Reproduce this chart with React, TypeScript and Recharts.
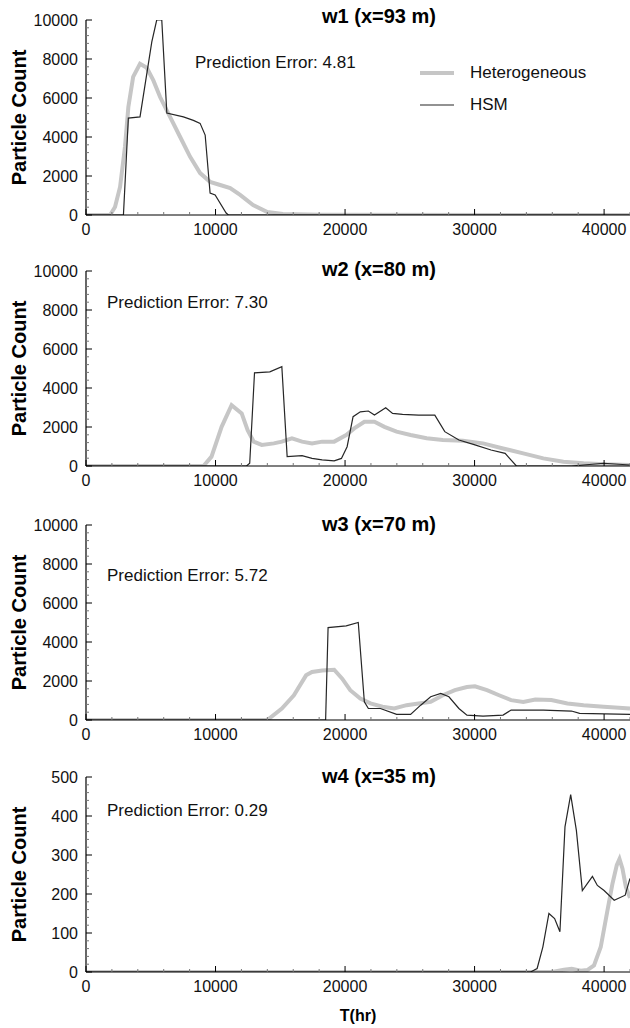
import React from "react";
import { LineChart, Line, XAxis, YAxis, Legend } from "recharts";

const FONT = "'Liberation Sans', Arial, sans-serif";
const HET_COLOR = "#c6c6c6";
const HSM_COLOR = "#262626";
const TOP = 30; // space above each plot for the title

// x axis (T in hours)
const xLabels = [0, 10000, 20000, 30000, 40000];
const xTicks = [
  0, 2000, 4000, 6000, 8000, 10000, 12000, 14000, 16000, 18000, 20000,
  22000, 24000, 26000, 28000, 30000, 32000, 34000, 36000, 38000, 40000, 42000,
];

// w1 (x=93 m)
const w1HetT = [0, 1860, 2240, 2630, 3010, 3270, 3640, 4170, 4690, 5200, 5720, 6490, 7270, 8040, 8810, 9580, 10360, 11130, 11900, 12900, 14000, 15200, 18000, 42000];
const w1HetCount = [0, 0, 410, 1440, 3500, 5540, 7080, 7750, 7550, 6900, 6050, 5030, 4000, 2980, 2150, 1700, 1540, 1380, 1030, 510, 150, 50, 10, 0];
const w1HsmT = [0, 2890, 3270, 4170, 5080, 5460, 5850, 6240, 7520, 8290, 8810, 9200, 9580, 9970, 10820, 11000, 42000];
const w1HsmCount = [0, 0, 4970, 5030, 8880, 10000, 10000, 5230, 5030, 4850, 4700, 4100, 1130, 1030, 100, 0, 0];

// w2 (x=80 m)
const w2HetT = [0, 9070, 9690, 10470, 11240, 12020, 12480, 12950, 13570, 14500, 15120, 15900, 16680, 17450, 18230, 19160, 20090, 20710, 21490, 22270, 23040, 23980, 25060, 26300, 27550, 29100, 30650, 32200, 33760, 35310, 36860, 38420, 39970, 42000];
const w2HetCount = [0, 0, 480, 2010, 3120, 2700, 1840, 1250, 1080, 1160, 1250, 1420, 1250, 1160, 1250, 1250, 1590, 1930, 2270, 2270, 2010, 1760, 1590, 1420, 1330, 1300, 1160, 900, 650, 390, 220, 140, 85, 50];
const w2HsmT = [0, 12390, 12640, 13010, 14190, 15120, 15530, 16680, 17450, 18230, 19160, 19720, 20160, 20620, 21180, 21800, 22270, 23140, 23670, 24440, 25680, 26930, 27700, 28790, 30030, 31270, 32360, 33230, 37500, 39970, 42000];
const w2HsmCount = [0, 0, 140, 4780, 4830, 5090, 480, 530, 390, 310, 260, 390, 990, 2530, 2780, 2820, 2610, 2990, 2700, 2650, 2610, 2610, 1760, 1330, 1080, 820, 650, 0, 0, 140, 50];

// w3 (x=70 m)
const w3HetT = [0, 14000, 15120, 16050, 16990, 17450, 18230, 19160, 19780, 20400, 21180, 21960, 22890, 23800, 24750, 25680, 26610, 27550, 28480, 29410, 30030, 30960, 31890, 32820, 33760, 34690, 35930, 37170, 38420, 39970, 42000];
const w3HetCount = [0, 0, 590, 1270, 2290, 2460, 2540, 2580, 2120, 1530, 1100, 850, 680, 590, 760, 850, 930, 1270, 1530, 1690, 1730, 1530, 1270, 1020, 930, 1050, 1020, 850, 760, 680, 590];
const w3HsmT = [0, 18500, 18690, 20090, 21020, 21490, 21800, 22730, 23980, 25060, 25840, 26610, 27390, 28020, 28790, 29410, 30650, 32200, 32820, 35310, 37480, 38110, 42000];
const w3HsmCount = [0, 0, 4740, 4830, 5000, 930, 590, 590, 290, 290, 760, 1190, 1360, 1190, 590, 250, 200, 250, 510, 510, 460, 340, 290];

// w4 (x=35 m)
const w4HetT = [0, 36000, 36900, 37500, 38200, 38700, 39220, 39740, 40260, 40650, 40980, 41190, 41420, 41680, 42000];
const w4HetCount = [0, 0, 6, 8, 3, 5, 17, 64, 158, 227, 274, 290, 265, 218, 190];
const w4HsmT = [0, 34320, 34830, 35270, 35740, 36180, 36590, 36980, 37420, 37860, 38320, 39100, 39480, 40000, 40780, 41630, 42000];
const w4HsmCount = [0, 0, 9, 64, 150, 137, 103, 372, 455, 363, 209, 245, 222, 209, 184, 197, 240];

const countLabels = [0, 2000, 4000, 6000, 8000, 10000];
const countTicks = [0, 400, 800, 1200, 1600, 2000, 2400, 2800, 3200, 3600, 4000, 4400, 4800, 5200, 5600, 6000, 6400, 6800, 7200, 7600, 8000, 8400, 8800, 9200, 9600, 10000];
const smallLabels = [0, 100, 200, 300, 400, 500];
const smallTicks = [0, 20, 40, 60, 80, 100, 120, 140, 160, 180, 200, 220, 240, 260, 280, 300, 320, 340, 360, 380, 400, 420, 440, 460, 480, 500];

const seriesNames = ["Heterogeneous", "HSM"];
const legendWidths: Record<string, number> = { Heterogeneous: 4, HSM: 1.2 };

const zip = (t: number[], v: number[]) => t.map((x, i) => ({ t: x, v: v[i] }));

const renderLegend = (props: any) => {
  const items = [...(props.payload || [])].sort(
    (a: any, b: any) => seriesNames.indexOf(a.value) - seriesNames.indexOf(b.value)
  );
  return (
    <div style={{ fontFamily: FONT, fontSize: 17, color: "#111" }}>
      {items.map((entry: any) => (
        <div key={entry.value} style={{ display: "flex", alignItems: "center", height: 32 }}>
          <svg width={34} height={8} style={{ marginRight: 16 }}>
            <line x1={0} x2={34} y1={4} y2={4} stroke={entry.color} strokeWidth={legendWidths[entry.value]} />
          </svg>
          <span>{entry.value}</span>
        </div>
      ))}
    </div>
  );
};

// tick marks point into the plot; labels only on the major values
const makeXTick = (labels: number[]) => (props: any) => {
  const { x, y, payload } = props;
  const major = labels.includes(payload.value);
  const axisY = y - 8;
  return (
    <g>
      <line x1={x} x2={x} y1={axisY} y2={axisY - (major ? 6 : 3)} stroke={major ? "#000" : "#777"} />
      {major && (
        <text x={x} y={axisY + 20} textAnchor="middle" fontFamily={FONT} fontSize={16} fill="#111">
          {payload.value}
        </text>
      )}
    </g>
  );
};

const makeYTick = (labels: number[]) => (props: any) => {
  const { x, y, payload } = props;
  const major = labels.includes(payload.value);
  const axisX = x + 8;
  return (
    <g>
      <line x1={axisX} x2={axisX + (major ? 6 : 3)} y1={y} y2={y} stroke={major ? "#000" : "#777"} />
      {major && (
        <text x={x} y={y + 6} textAnchor="end" fontFamily={FONT} fontSize={16} fill="#111">
          {payload.value}
        </text>
      )}
    </g>
  );
};

type PanelProps = {
  plotTop: number;
  title: string;
  titleDy: number;
  error: string;
  errorX: number;
  errorDy: number;
  yMax: number;
  yLabels: number[];
  yTicks: number[];
  het: { t: number; v: number }[];
  hsm: { t: number; v: number }[];
  legend?: boolean;
  xLabel?: boolean;
};

function Panel(p: PanelProps) {
  const extra = p.xLabel ? 30 : 0;
  const height = TOP + 195 + 30 + extra;
  return (
    <div style={{ position: "absolute", left: 0, top: p.plotTop - TOP }}>
      <LineChart width={630} height={height} margin={{ top: TOP, right: 0, bottom: extra, left: 0 }}>
        <XAxis xAxisId="main" type="number" dataKey="t" domain={[0, 42000]} ticks={xTicks} interval={0}
          allowDataOverflow height={30} tickLine={false} tickSize={0} tickMargin={8}
          axisLine={{ stroke: "#000", strokeWidth: 1.2 }} tick={makeXTick(xLabels)} />
        <YAxis yAxisId="main" type="number" domain={[0, p.yMax]} ticks={p.yTicks} interval={0}
          allowDataOverflow width={86} tickLine={false} tickSize={0} tickMargin={8}
          axisLine={{ stroke: "#000", strokeWidth: 1.2 }} tick={makeYTick(p.yLabels)} />
        <Line xAxisId="main" yAxisId="main" data={p.het} dataKey="v" name="Heterogeneous" type="linear"
          stroke={HET_COLOR} strokeWidth={4} dot={false} isAnimationActive={false} />
        <Line xAxisId="main" yAxisId="main" data={p.hsm} dataKey="v" name="HSM" type="linear"
          stroke={HSM_COLOR} strokeWidth={1.2} dot={false} isAnimationActive={false} />
        {p.legend && (
          <Legend layout="vertical" align="center" verticalAlign="middle" content={renderLegend}
            wrapperStyle={{ left: 420, top: TOP + 37, width: 200 }} />
        )}
        <text x={379} y={TOP + p.titleDy} textAnchor="middle" fontFamily={FONT} fontSize={20} fontWeight="bold" fill="#000">
          {p.title}
        </text>
        <text x={p.errorX} y={TOP + p.errorDy} fontFamily={FONT} fontSize={17} fill="#111">
          {p.error}
        </text>
        <text x={26} y={TOP + 97.5} transform={`rotate(-90 26 ${TOP + 97.5})`} textAnchor="middle" fontFamily={FONT}
          fontSize={20} fontWeight="bold" fill="#000">
          Particle Count
        </text>
        {p.xLabel && (
          <text x={358} y={TOP + 244} textAnchor="middle" fontFamily={FONT} fontSize={16} fontWeight="bold" fill="#000">
            T(hr)
          </text>
        )}
      </LineChart>
    </div>
  );
}

export default function App() {
  return (
    <div style={{ position: "absolute", left: 0, top: 0, width: 630, height: 1028, background: "#fff", overflow: "hidden" }}>
      <Panel plotTop={20} title="w1 (x=93 m)" titleDy={3} error="Prediction Error: 4.81" errorX={195} errorDy={48}
        yMax={10000} yLabels={countLabels} yTicks={countTicks}
        het={zip(w1HetT, w1HetCount)} hsm={zip(w1HsmT, w1HsmCount)} legend />
      <Panel plotTop={271} title="w2 (x=80 m)" titleDy={5} error="Prediction Error: 7.30" errorX={107} errorDy={37}
        yMax={10000} yLabels={countLabels} yTicks={countTicks}
        het={zip(w2HetT, w2HetCount)} hsm={zip(w2HsmT, w2HsmCount)} />
      <Panel plotTop={525} title="w3 (x=70 m)" titleDy={6} error="Prediction Error: 5.72" errorX={107} errorDy={56}
        yMax={10000} yLabels={countLabels} yTicks={countTicks}
        het={zip(w3HetT, w3HetCount)} hsm={zip(w3HsmT, w3HsmCount)} />
      <Panel plotTop={777} title="w4 (x=35 m)" titleDy={6} error="Prediction Error: 0.29" errorX={107} errorDy={39}
        yMax={500} yLabels={smallLabels} yTicks={smallTicks}
        het={zip(w4HetT, w4HetCount)} hsm={zip(w4HsmT, w4HsmCount)} xLabel />
    </div>
  );
}
